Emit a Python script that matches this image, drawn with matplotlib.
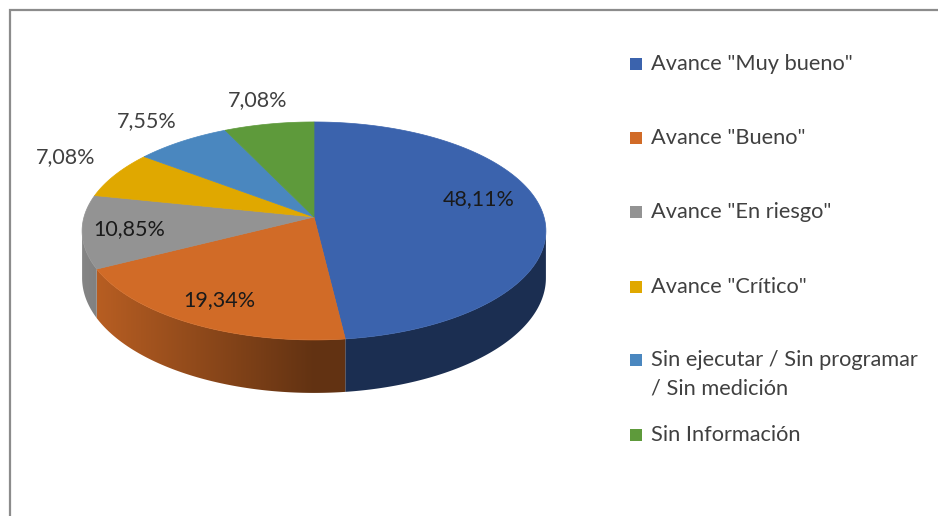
import numpy as np
import matplotlib
matplotlib.use("Agg")
import matplotlib.pyplot as plt
from matplotlib.patches import Polygon, Rectangle

# data
labels = ['Avance "Muy bueno"', 'Avance "Bueno"', 'Avance "En riesgo"',
          'Avance "Crítico"', 'Sin ejecutar / Sin programar\n/ Sin medición',
          'Sin Información']
values = [48.11, 19.34, 10.85, 7.08, 7.55, 7.08]
pct_text = ['48,11%', '19,34%', '10,85%', '7,08%', '7,55%', '7,08%']
colors = ['#3b63ad', '#d16b27', '#939393', '#e0a800', '#4a87bf', '#5e9a3b']

# layout (pixels)
W, H = 938, 516
cx, cy = 314, 217          # projected centre of the top face
a, b = 230, 107.2          # semi axes
k = 0.128                  # perspective
depth = 46.2
lab_r = [0.72, 0.8, 0.8, 1.27, 1.3, 1.3]
lab_dy = [-13, 0, 0, -7, 0, 0]
leg_y = [64, 138, 212, 287, 360, 435]

plt.rcParams['font.family'] = ['Lato', 'DejaVu Sans']

fig = plt.figure(figsize=(W / 100, H / 100), dpi=100)
ax = fig.add_axes([0, 0, 1, 1])


def proj(th, r=1.0, z=0.0):
    u = r * np.sin(th)
    v = r * np.cos(th)
    s = 1.0 / (1.0 + k * v)
    return cx + a * u * s, cy - b * v * s + depth * z * s


def rgb(c):
    c = c.lstrip('#')
    return np.array([int(c[i:i + 2], 16) / 255 for i in (0, 2, 4)])


frac = np.array(values) / np.sum(values)
edges = np.concatenate([[0], np.cumsum(frac)]) * 2 * np.pi
vis0, vis1 = np.arccos(-k), 2 * np.pi - np.arccos(-k)

# side walls, shaded left (light) to right (dark)
for i in range(len(values)):
    t0, t1 = max(edges[i], vis0), min(edges[i + 1], vis1)
    if t1 <= t0:
        continue
    tt = np.linspace(t0, t1, 200)
    xt, yt = proj(tt)
    xb, yb = proj(tt, z=1)
    pts = np.column_stack([np.r_[xt, xb[::-1]], np.r_[yt, yb[::-1]]])
    poly = Polygon(pts, closed=True, facecolor='none', edgecolor='none')
    ax.add_patch(poly)
    x0, x1 = pts[:, 0].min() - 1, pts[:, 0].max() + 1
    y0, y1 = pts[:, 1].min() - 1, pts[:, 1].max() + 1
    xs = np.linspace(x0, x1, 300)
    f = 0.47 + 0.43 * np.clip((cx - xs) / a, 0, None)
    img = (rgb(colors[i])[None, :] * f[:, None])[None, :, :]
    im = ax.imshow(img, extent=(x0, x1, y1, y0), origin='upper',
                   aspect='auto', interpolation='bilinear')
    im.set_clip_path(poly)

# top face
for i in range(len(values)):
    tt = np.linspace(edges[i], edges[i + 1], 120)
    xt, yt = proj(tt)
    pts = np.column_stack([np.r_[cx, xt], np.r_[cy, yt]])
    ax.add_patch(Polygon(pts, closed=True, facecolor=colors[i],
                         edgecolor=colors[i], lw=0.5))

# data labels
for i in range(len(values)):
    mid = (edges[i] + edges[i + 1]) / 2
    x, y = proj(mid, r=lab_r[i])
    tc = '#1a1a1a' if lab_r[i] < 1 else '#404040'
    ax.text(x, y + lab_dy[i], pct_text[i], ha='center', va='center',
            fontsize=15.5, color=tc)

# legend
for i in range(len(labels)):
    ax.add_patch(Rectangle((630, leg_y[i] - 6), 12, 12, facecolor=colors[i],
                           edgecolor='none'))
    ax.text(651, leg_y[i] - 10, labels[i], ha='left', va='top',
            fontsize=15.7, color='#404040', linespacing=1.55)

# chart border
ax.plot([10, 10, W + 5], [H + 5, 10, 10], color='#8c8c8c', lw=1.6,
        solid_joinstyle='miter')

ax.set_xlim(0, W)
ax.set_ylim(H, 0)
ax.axis('off')

fig.savefig('out.png', dpi=100)
